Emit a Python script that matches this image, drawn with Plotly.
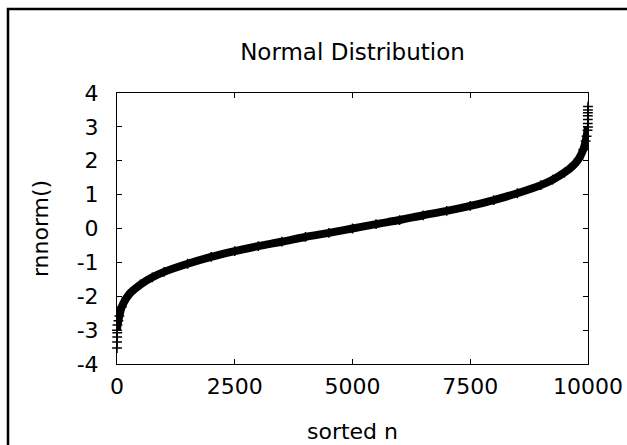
import plotly.graph_objects as go

# Values (sorted rnorm sample, 10000 points)
sorted_n = [0, 10, 30, 50, 100, 200, 300, 500, 750, 1000, 1500, 2000, 2500,
            3000, 3500, 4000, 4500, 5000, 5500, 6000, 6500, 7000, 7500, 8000,
            8500, 9000, 9250, 9500, 9700, 9800, 9900, 9950, 9970, 9990, 10000]
rnorm_vals = [-3.0, -2.85, -2.72, -2.58, -2.32, -2.05, -1.88, -1.65, -1.44,
              -1.28, -1.04, -0.84, -0.67, -0.52, -0.39, -0.25, -0.13, 0.0,
              0.13, 0.25, 0.39, 0.52, 0.67, 0.84, 1.04, 1.28, 1.44, 1.65,
              1.88, 2.05, 2.33, 2.58, 2.72, 2.9, 3.0]
# Extreme tail points visible as separate "+" marks
tail_n = [0, 2, 4, 6, 9994, 9996, 9997, 9998, 9999, 10000]
tail_vals = [-3.53, -3.35, -3.2, -3.08, 3.1, 3.22, 3.33, 3.42, 3.5, 3.6]

x_ticks = [0, 2500, 5000, 7500, 10000]
y_ticks = [-4, -3, -2, -1, 0, 1, 2, 3, 4]

FONT = "DejaVu Sans, Verdana, sans-serif"
FS = 22
W, H = 627, 445
ML, MR, MT, MB = 117, 39, 93, 81
PW, PH = W - ML - MR, H - MT - MB

fig = go.Figure()
fig.add_trace(go.Scatter(x=sorted_n, y=rnorm_vals, mode="lines",
                         line=dict(color="black", width=8, shape="spline"),
                         showlegend=False, hoverinfo="skip"))
fig.add_trace(go.Scatter(x=sorted_n + tail_n, y=rnorm_vals + tail_vals,
                         mode="markers",
                         marker=dict(symbol="cross-thin", size=7, color="black",
                                     line=dict(color="black", width=1.5)),
                         showlegend=False, cliponaxis=False))

axis_common = dict(showline=True, linecolor="black", linewidth=1, mirror="ticks",
                   ticks="inside", ticklen=5, tickcolor="black", tickwidth=1,
                   showgrid=False, zeroline=False,
                   tickfont=dict(family=FONT, size=FS, color="black"))

fig.update_xaxes(range=[0, 10000], tickvals=x_ticks,
                 ticktext=[str(v) for v in x_ticks],
                 ticklabelstandoff=3,
                 title=dict(text="sorted n", font=dict(family=FONT, size=FS, color="black"),
                            standoff=25),
                 **axis_common)
fig.update_yaxes(range=[-4, 4], tickvals=y_ticks,
                 ticktext=[str(v) for v in y_ticks],
                 ticklabelstandoff=13,
                 title=dict(text="rnnorm()", font=dict(family=FONT, size=FS, color="black"),
                            standoff=21),
                 **axis_common)

# outer frame (only its left and top edges fall in view)
x0 = (8 - ML) / PW
y0 = (H - 9 - MB) / PH
fig.add_shape(type="path", xref="paper", yref="paper",
              path=f"M {x0} -0.5 L {x0} {y0} L 1.3 {y0}",
              line=dict(color="black", width=2.5))

fig.update_layout(
    width=W, height=H,
    margin=dict(l=ML, r=MR, t=MT, b=MB, autoexpand=False),
    paper_bgcolor="white", plot_bgcolor="white",
    title=dict(text="Normal Distribution", x=0.5, xref="paper",
               y=1 - 52 / H, yref="container", yanchor="middle", xanchor="center",
               font=dict(family=FONT, size=23, color="black")),
)

fig.write_html("out.html",
               config={"displayModeBar": False},
               post_script="document.body.style.margin='0';"
                           "document.body.style.overflow='hidden';")
